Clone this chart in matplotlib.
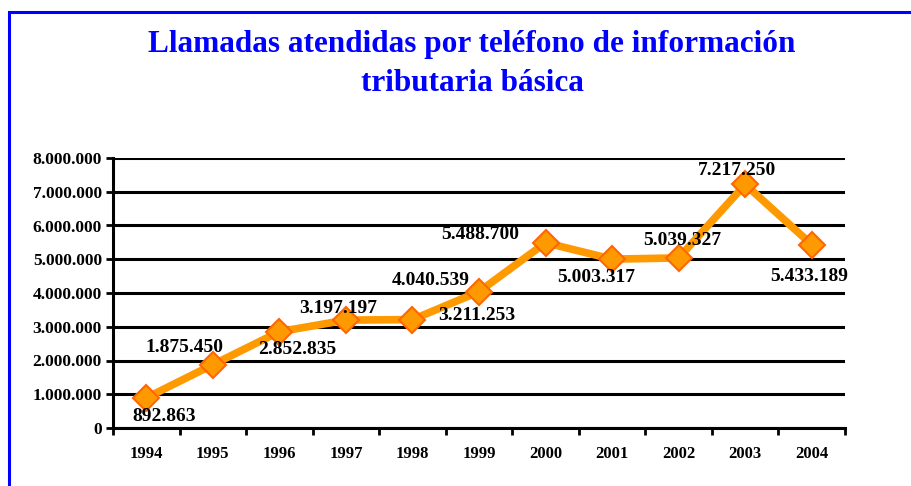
import matplotlib
matplotlib.use("Agg")
import matplotlib.pyplot as plt
from matplotlib.patches import Rectangle

years = ["1994", "1995", "1996", "1997", "1998", "1999", "2000", "2001", "2002", "2003", "2004"]
calls = [892863, 1875450, 2852835, 3197197, 3211253, 4040539, 5488700, 5003317, 5039327, 7217250, 5433189]
ytick_values = [0, 1000000, 2000000, 3000000, 4000000, 5000000, 6000000, 7000000, 8000000]
ytick_labels = ["0", "1.000.000", "2.000.000", "3.000.000", "4.000.000", "5.000.000",
                "6.000.000", "7.000.000", "8.000.000"]
title = "Llamadas atendidas por teléfono de información\ntributaria básica"

# label offsets in pixels (dx, dy down positive) relative to each point
label_offsets = [(18, 19), (-28, -17), (18, 18), (-8, -12), (64, -4), (-48, -11),
                 (-65, -8), (-16, 18), (4, -17), (-8, -14), (-3, 32)]

def fmt(v):
    return f"{v:,}".replace(",", ".")

W, H = 912, 486
fig = plt.figure(figsize=(W / 100, H / 100), dpi=100)
fig.patch.set_facecolor("white")

serif = ["Liberation Serif", "DejaVu Serif"]

# blue frame (extends beyond right/bottom edges)
fig.patches.append(Rectangle((9 / W, -0.1), 1.2, (H - 12) / H + 0.1, transform=fig.transFigure,
                             fill=False, edgecolor="#0000FF", linewidth=2.2, zorder=0))

fig.text(472 / W, 1 - 64 / H, title, ha="center", va="center", color="#0000FF",
         fontsize=22.5, fontweight="bold", family=serif, linespacing=1.45)

ax = fig.add_axes([113 / W, (H - 428) / H, (845 - 113) / W, (428 - 158) / H])
x = list(range(len(years)))
ax.plot(x, calls, color="#FF9900", linewidth=5.5, marker="D", markersize=13.5,
        markerfacecolor="#FF9900", markeredgecolor="#FF6600", markeredgewidth=1.5,
        zorder=5, clip_on=False)

for xi, v, (dx, dy) in zip(x, calls, label_offsets):
    ax.annotate(fmt(v), (xi, v), xytext=(dx * 0.72, -dy * 0.72), textcoords="offset points",
                ha="center", va="center", fontsize=14, fontweight="bold", family=serif,
                color="black", zorder=6)

ax.set_xlim(-0.5, len(years) - 0.5)
ax.set_ylim(0, 8000000)
ax.set_yticks(ytick_values)
ax.set_yticklabels(ytick_labels, fontsize=12.5, fontweight="bold", family=serif)
ax.set_xticks(x)
ax.set_xticklabels(years, fontsize=12, fontweight="bold", family=serif)
ax.set_xticks([i - 0.5 for i in range(len(years) + 1)], minor=True)
ax.tick_params(axis="x", which="major", length=0, pad=13)
ax.tick_params(axis="x", which="minor", length=5, width=2, direction="out")
ax.tick_params(axis="y", length=5, width=2, direction="out", pad=3)
ax.yaxis.grid(True, color="black", linewidth=2.2)
ax.set_axisbelow(True)
for s in ["top", "right"]:
    ax.spines[s].set_visible(False)
for s in ["left", "bottom"]:
    ax.spines[s].set_linewidth(2.2)
    ax.spines[s].set_color("black")

fig.savefig("out.png", dpi=100)
